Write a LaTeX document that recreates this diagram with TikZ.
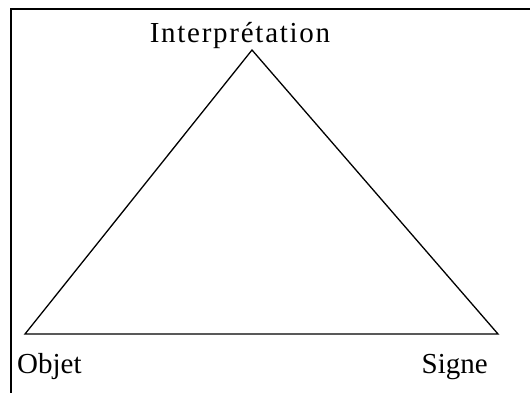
\documentclass[tikz,border=0pt]{standalone}
\usepackage{fontspec}
\setmainfont{Liberation Serif}
\begin{document}
\begin{tikzpicture}[x=1pt,y=-1pt,
  lbl/.style={inner sep=0pt,font=\fontsize{29}{31}\selectfont},
  tri/.style={line width=1.3pt,line join=miter},
  frame/.style={line width=2pt}]
\useasboundingbox (0,0) rectangle (530,392);
\begin{scope}
\clip (0,0) rectangle (530,392);
\draw[frame] (11,400) -- (11,9) -- (540,9);
\end{scope}
\coordinate (I) at (252,50);
\coordinate (O) at (25,334);
\coordinate (S) at (498,334);
\draw[tri] (O) -- (I) -- (S) -- cycle;
\node[lbl,anchor=base] (ti) at (240,42) {\addfontfeature{LetterSpace=6}Interprétation};
\node[lbl,anchor=base west] (to) at (17,373) {Objet};
\node[lbl,anchor=base east] (ts) at (488,373) {Signe};
\end{tikzpicture}
\end{document}
